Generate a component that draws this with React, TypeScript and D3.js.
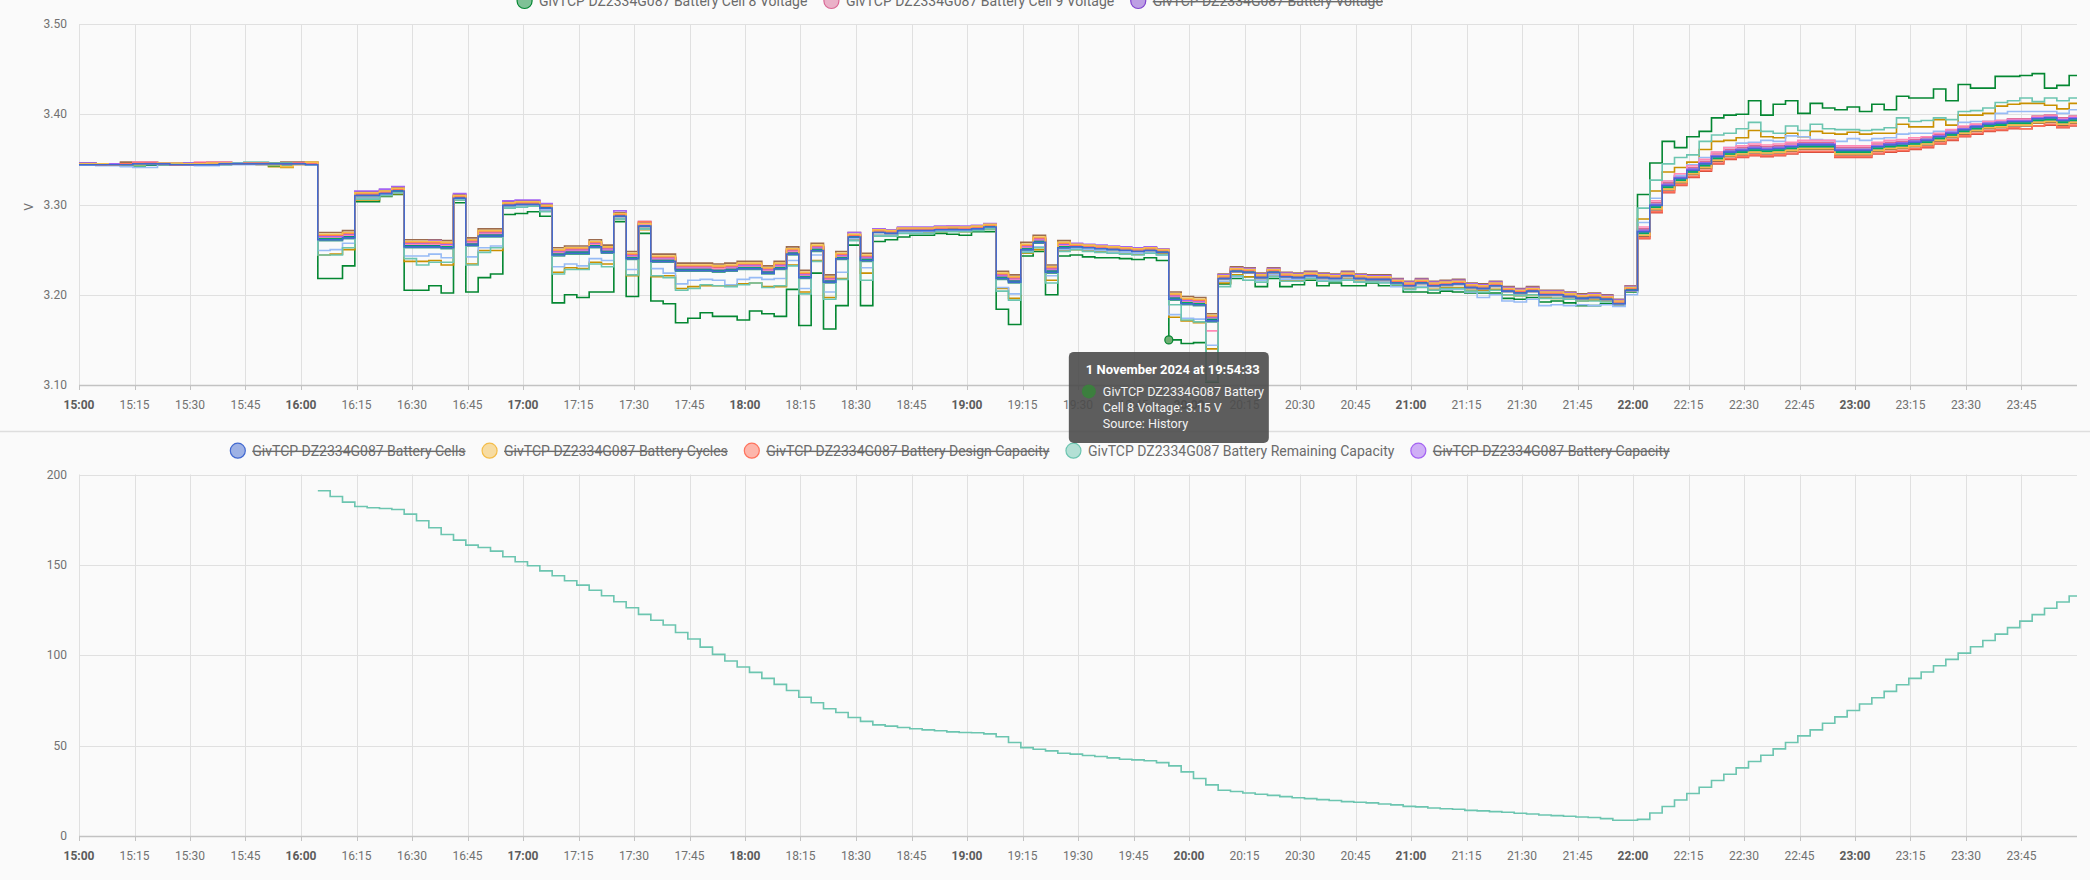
import { useEffect, useRef } from 'react';
import * as d3 from 'd3';

// History window and sampling (GivTCP reports roughly every 200 s)
const WINDOW_START = new Date(2024, 10, 1, 15, 0, 0);
const WINDOW_END = new Date(2024, 10, 2, 0, 0, 0);
const FIRST_SAMPLE = new Date(2024, 10, 1, 15, 1, 13);
const SAMPLE_SECONDS = 200;
const SAMPLE_COUNT = 162;
const CAPACITY_FIRST_SAMPLE = 19;

const DEVICE = 'GivTCP DZ2334G087 Battery';

const CELL_LABELS = [
    'Cell 1', 'Cell 10', 'Cell 11', 'Cell 12', 'Cell 13', 'Cell 14', 'Cell 15', 'Cell 16',
    'Cell 2', 'Cell 3', 'Cell 4', 'Cell 5', 'Cell 6', 'Cell 7', 'Cell 8', 'Cell 9',
];
const CELL_COLORS = [
    '#4269d0', '#f4bd4a', '#ff725c', '#6cc5b0', '#a463f2', '#ff8ab7', '#9c6b4e', '#97bbf5',
    '#01ab63', '#9498a0', '#094bad', '#c99000', '#d84f3e', '#49a28f', '#048732', '#d96895',
];

// Cell voltages in mV: value at 15:00, then one per sample
const CELL_1_MV = [3344,3344,3344,3344,3344,3345,3345,3345,3344,3344,3344,3344,3345,3345,3345,3345,3345,3345,3345,3344,
    3261,3261,3263,3310,3310,3312,3315,3253,3253,3253, 3252,3307,3255,3265,3265,3299,3300,3300,3296,3244,
    3246,3246,3253,3247,3287,3240,3276,3237,3237,3227, 3227,3227,3226,3227,3229,3229,3224,3229,3245,3219,
    3249,3214,3240,3264,3238,3269,3268,3271,3271,3271, 3272,3272,3272,3273,3275,3218,3214,3250,3258,3225,
    3252,3253,3252,3251,3250,3249,3248,3249,3247,3195, 3190,3189,3171,3218,3226,3225,3219,3225,3220,3219,
    3221,3219,3218,3221,3218,3217,3217,3213,3210,3213, 3210,3211,3212,3208,3207,3210,3204,3202,3204,3200,
    3200,3198,3196,3197,3195,3190,3205,3270,3299,3321, 3329,3338,3345,3353,3358,3360,3362,3361,3362,3364,
    3366,3366,3366,3360,3360,3360,3364,3366,3367,3369, 3371,3375,3379,3383,3386,3389,3390,3392,3392,3395,
    3396,3393,3395];
const CELL_10_MV = [3345,3345,3345,3344,3344,3344,3345,3346,3346,3345,3345,3346,3346,3345,3345,3345,3344,3342,3344,3347,
    3267,3267,3269,3313,3313,3315,3318,3259,3259,3259, 3258,3310,3261,3271,3271,3302,3303,3303,3299,3250,
    3252,3252,3259,3253,3290,3246,3279,3243,3243,3233, 3233,3233,3232,3233,3235,3235,3230,3235,3251,3225,
    3255,3220,3246,3267,3244,3272,3271,3274,3274,3274, 3275,3275,3275,3276,3278,3224,3220,3256,3264,3231,
    3258,3256,3255,3254,3253,3252,3251,3252,3250,3201, 3196,3195,3177,3221,3229,3228,3222,3228,3223,3222,
    3224,3222,3221,3224,3221,3220,3220,3216,3213,3216, 3213,3214,3215,3211,3210,3213,3207,3205,3207,3203,
    3203,3201,3199,3200,3198,3193,3208,3266,3295,3317, 3325,3334,3341,3349,3354,3356,3358,3357,3358,3360,
    3362,3362,3362,3356,3356,3356,3360,3362,3363,3365, 3367,3371,3375,3379,3382,3385,3386,3388,3388,3391,
    3392,3389,3391];
const CELL_11_MV = [3345,3345,3344,3344,3345,3346,3346,3345,3344,3345,3346,3346,3345,3345,3346,3346,3345,3345,3346,3346,
    3266,3266,3268,3312,3312,3314,3317,3258,3258,3258, 3257,3309,3260,3270,3270,3301,3302,3302,3298,3249,
    3251,3251,3258,3252,3289,3245,3281,3242,3242,3232, 3232,3232,3231,3232,3234,3234,3229,3234,3250,3224,
    3254,3219,3245,3266,3243,3271,3270,3273,3273,3273, 3274,3274,3274,3275,3277,3223,3219,3255,3263,3230,
    3257,3255,3254,3253,3252,3251,3250,3251,3249,3200, 3195,3194,3176,3220,3228,3227,3221,3227,3222,3221,
    3223,3221,3220,3223,3220,3219,3219,3215,3212,3215, 3212,3213,3214,3210,3209,3212,3206,3204,3206,3202,
    3202,3200,3198,3199,3197,3192,3207,3263,3292,3314, 3322,3331,3338,3346,3351,3353,3355,3354,3355,3357,
    3359,3359,3359,3353,3353,3353,3357,3359,3360,3362, 3364,3368,3372,3376,3379,3382,3383,3385,3384,3387,
    3389,3386,3388];
const CELL_12_MV = [3345,3345,3344,3344,3344,3344,3345,3345,3345,3345,3345,3345,3345,3346,3347,3347,3346,3346,3345,3344,
    3244,3244,3252,3306,3306,3310,3313,3240,3233,3236, 3236,3305,3233,3247,3252,3296,3297,3298,3292,3223,
    3228,3228,3234,3231,3284,3222,3273,3221,3219,3205, 3207,3211,3210,3209,3211,3213,3208,3210,3232,3201,
    3237,3195,3217,3260,3216,3265,3265,3268,3268,3268, 3270,3270,3270,3271,3273,3204,3194,3247,3252,3213,
    3248,3250,3248,3247,3246,3245,3244,3246,3244,3189, 3172,3170,3104,3209,3221,3216,3214,3220,3215,3215,
    3218,3215,3215,3216,3214,3214,3213,3211,3206,3208, 3205,3207,3207,3204,3203,3205,3200,3199,3200,3196,
    3196,3195,3193,3193,3192,3191,3208,3296,3327,3345, 3352,3355,3370,3377,3379,3384,3391,3381,3379,3387,
    3382,3389,3384,3383,3383,3382,3383,3385,3396,3392, 3393,3396,3394,3403,3404,3407,3413,3415,3418,3414,
    3418,3415,3418];
const CELL_13_MV = [3346,3346,3345,3345,3345,3345,3346,3346,3346,3346,3346,3346,3346,3346,3345,3345,3345,3345,3346,3346,
    3265,3265,3267,3315,3315,3317,3320,3257,3257,3260, 3256,3312,3259,3269,3269,3304,3305,3305,3301,3248,
    3250,3250,3257,3251,3293,3244,3281,3241,3241,3231, 3231,3231,3232,3231,3233,3233,3228,3233,3249,3223,
    3253,3218,3244,3269,3242,3273,3272,3275,3275,3275, 3276,3276,3276,3277,3279,3222,3218,3254,3262,3229,
    3256,3257,3256,3255,3254,3253,3252,3253,3251,3199, 3194,3193,3175,3222,3230,3229,3223,3229,3224,3223,
    3225,3223,3222,3225,3222,3221,3221,3217,3214,3217, 3214,3215,3216,3212,3211,3214,3208,3206,3208,3204,
    3204,3202,3200,3201,3199,3194,3209,3271,3300,3322, 3330,3339,3346,3354,3359,3361,3363,3362,3363,3365,
    3367,3367,3367,3361,3361,3361,3365,3367,3368,3370, 3372,3376,3380,3384,3387,3390,3391,3393,3393,3396,
    3397,3394,3396];
const CELL_14_MV = [3345,3345,3344,3344,3345,3347,3347,3346,3344,3344,3347,3347,3347,3346,3345,3345,3345,3345,3346,3346,
    3264,3264,3266,3312,3312,3314,3317,3256,3256,3256, 3255,3309,3258,3268,3268,3301,3302,3302,3298,3247,
    3249,3249,3256,3250,3289,3243,3278,3240,3240,3230, 3230,3230,3229,3230,3232,3232,3227,3232,3248,3222,
    3252,3217,3243,3266,3241,3271,3270,3273,3273,3273, 3274,3276,3274,3275,3277,3221,3217,3253,3261,3228,
    3255,3255,3254,3253,3252,3251,3250,3251,3249,3198, 3193,3192,3160,3220,3228,3227,3221,3227,3222,3221,
    3223,3221,3220,3223,3220,3219,3219,3215,3212,3215, 3212,3213,3214,3210,3209,3212,3206,3204,3206,3202,
    3202,3200,3198,3199,3197,3192,3209,3275,3304,3326, 3334,3343,3350,3358,3363,3365,3367,3366,3367,3369,
    3371,3371,3371,3365,3365,3365,3369,3371,3372,3374, 3375,3379,3383,3387,3389,3392,3393,3394,3394,3397,
    3398,3395,3397];
const CELL_15_MV = [3346,3346,3345,3345,3347,3347,3347,3346,3346,3346,3346,3347,3347,3346,3346,3346,3346,3347,3347,3347,
    3269,3269,3271,3314,3314,3316,3319,3261,3261,3261, 3260,3311,3263,3273,3273,3303,3304,3304,3300,3252,
    3254,3254,3261,3255,3291,3248,3280,3245,3245,3235, 3235,3235,3234,3235,3237,3237,3232,3237,3253,3227,
    3257,3222,3248,3269,3246,3272,3271,3274,3274,3274, 3275,3275,3275,3276,3278,3226,3222,3258,3266,3233,
    3260,3256,3255,3254,3253,3252,3251,3252,3250,3203, 3198,3197,3179,3223,3231,3230,3224,3230,3225,3224,
    3226,3224,3223,3226,3223,3222,3222,3218,3215,3218, 3215,3216,3217,3213,3212,3215,3209,3207,3209,3205,
    3205,3203,3201,3202,3200,3195,3210,3265,3294,3316, 3324,3333,3340,3348,3353,3355,3357,3356,3357,3359,
    3361,3361,3361,3355,3355,3355,3359,3361,3362,3364, 3366,3370,3374,3378,3381,3384,3385,3387,3387,3390,
    3391,3388,3390];
const CELL_16_MV = [3344,3344,3343,3343,3342,3341,3341,3344,3344,3344,3343,3343,3344,3344,3344,3344,3344,3344,3344,3344,
    3249,3250,3257,3307,3307,3311,3313,3243,3243,3245, 3241,3306,3242,3252,3254,3297,3298,3298,3294,3231,
    3234,3232,3240,3238,3285,3228,3273,3229,3224,3212, 3216,3217,3216,3211,3217,3219,3217,3218,3238,3207,
    3244,3203,3225,3262,3230,3266,3266,3269,3269,3270, 3271,3271,3271,3272,3274,3208,3201,3248,3253,3221,
    3250,3251,3250,3249,3247,3247,3246,3247,3244,3178, 3174,3173,3144,3215,3220,3216,3216,3222,3217,3217,
    3219,3216,3216,3217,3214,3214,3214,3209,3206,3209, 3205,3206,3206,3203,3197,3200,3193,3192,3195,3188,
    3189,3188,3189,3188,3189,3187,3200,3280,3307,3326, 3332,3344,3352,3358,3363,3368,3369,3371,3370,3376,
    3375,3372,3371,3370,3373,3371,3373,3374,3378,3379, 3379,3381,3381,3391,3392,3392,3401,3403,3403,3403,
    3403,3401,3405];
const CELL_2_MV = [3345,3345,3345,3344,3343,3343,3344,3344,3344,3344,3344,3345,3345,3345,3346,3346,3343,3343,3345,3345,
    3262,3262,3264,3310,3310,3312,3315,3254,3254,3254, 3253,3307,3256,3266,3266,3299,3300,3300,3296,3245,
    3247,3247,3254,3248,3287,3241,3276,3238,3238,3228, 3228,3228,3227,3228,3230,3230,3225,3230,3246,3220,
    3250,3215,3241,3264,3239,3270,3269,3272,3272,3272, 3273,3273,3273,3274,3276,3219,3215,3251,3259,3226,
    3253,3254,3253,3252,3251,3250,3249,3250,3248,3196, 3191,3190,3172,3219,3227,3226,3220,3226,3221,3220,
    3222,3220,3219,3222,3219,3218,3218,3214,3211,3214, 3211,3212,3213,3209,3208,3211,3205,3203,3205,3201,
    3201,3199,3197,3198,3196,3191,3206,3268,3297,3319, 3327,3336,3343,3351,3356,3358,3360,3359,3360,3362,
    3364,3364,3364,3358,3358,3358,3362,3364,3365,3367, 3369,3373,3377,3381,3384,3387,3388,3390,3390,3393,
    3394,3391,3393];
const CELL_3_MV = [3346,3346,3345,3345,3345,3345,3345,3345,3345,3345,3345,3345,3345,3345,3345,3345,3345,3346,3346,3346,
    3264,3264,3266,3308,3308,3310,3313,3256,3256,3256, 3255,3305,3258,3268,3268,3297,3298,3298,3294,3247,
    3249,3249,3256,3250,3284,3243,3274,3240,3240,3230, 3230,3230,3229,3230,3232,3232,3227,3232,3248,3222,
    3252,3217,3243,3262,3241,3270,3269,3272,3272,3272, 3273,3273,3273,3274,3276,3221,3217,3253,3261,3228,
    3255,3254,3253,3252,3251,3250,3249,3250,3248,3198, 3193,3192,3174,3217,3225,3224,3218,3224,3219,3218,
    3220,3218,3217,3220,3217,3216,3216,3212,3209,3212, 3209,3210,3211,3207,3206,3209,3203,3201,3203,3199,
    3199,3197,3195,3196,3194,3189,3204,3266,3295,3317, 3326,3335,3342,3350,3355,3357,3359,3358,3359,3361,
    3363,3363,3363,3357,3357,3357,3361,3363,3364,3366, 3368,3372,3376,3380,3383,3386,3387,3389,3389,3392,
    3393,3390,3392];
const CELL_4_MV = [3344,3344,3344,3344,3344,3344,3344,3345,3345,3344,3344,3344,3345,3345,3345,3345,3345,3345,3345,3345,
    3263,3263,3265,3311,3311,3313,3316,3255,3255,3255, 3254,3308,3257,3267,3267,3300,3301,3301,3297,3246,
    3248,3248,3255,3249,3288,3242,3277,3239,3239,3229, 3229,3229,3228,3229,3231,3231,3226,3231,3247,3221,
    3251,3216,3242,3265,3240,3271,3270,3273,3273,3273, 3274,3274,3274,3275,3277,3220,3216,3252,3260,3227,
    3254,3255,3254,3253,3252,3251,3250,3251,3249,3197, 3192,3191,3173,3220,3228,3227,3221,3227,3222,3221,
    3223,3221,3220,3223,3220,3219,3219,3215,3212,3215, 3212,3213,3214,3210,3209,3212,3206,3204,3206,3202,
    3202,3200,3198,3199,3197,3192,3207,3271,3300,3322, 3330,3339,3346,3354,3359,3361,3363,3362,3363,3365,
    3367,3367,3367,3361,3361,3361,3365,3367,3368,3370, 3372,3376,3380,3384,3387,3390,3391,3393,3393,3396,
    3397,3394,3396];
const CELL_5_MV = [3345,3345,3345,3345,3345,3345,3344,3344,3344,3345,3346,3346,3345,3345,3345,3344,3342,3341,3345,3346,
    3244,3245,3250,3305,3305,3310,3312,3237,3237,3238, 3233,3305,3234,3249,3249,3297,3298,3298,3293,3225,
    3230,3229,3236,3234,3285,3221,3272,3220,3221,3207, 3209,3210,3210,3210,3212,3213,3209,3209,3233,3203,
    3238,3197,3218,3261,3224,3266,3266,3269,3269,3269, 3270,3271,3270,3272,3273,3207,3196,3246,3250,3216,
    3249,3250,3249,3248,3247,3246,3245,3247,3245,3175, 3171,3169,3140,3213,3222,3220,3216,3221,3216,3216,
    3218,3216,3216,3218,3215,3215,3214,3211,3207,3209, 3206,3208,3208,3205,3205,3206,3200,3199,3200,3197,
    3196,3195,3193,3194,3193,3192,3206,3284,3315,3336, 3341,3347,3361,3370,3371,3374,3382,3375,3374,3379,
    3375,3381,3379,3378,3380,3378,3379,3379,3389,3386, 3386,3394,3388,3399,3399,3401,3409,3411,3412,3412,
    3410,3406,3412];
const CELL_6_MV = [3345,3345,3344,3344,3345,3345,3345,3345,3344,3344,3345,3345,3345,3345,3345,3345,3346,3346,3346,3345,
    3265,3265,3267,3312,3312,3314,3317,3257,3257,3257, 3256,3309,3259,3269,3269,3301,3302,3302,3298,3248,
    3250,3250,3257,3251,3289,3244,3278,3241,3241,3231, 3231,3231,3230,3231,3233,3233,3228,3233,3249,3223,
    3253,3218,3244,3266,3242,3270,3269,3272,3272,3272, 3273,3273,3273,3274,3276,3222,3218,3254,3262,3229,
    3256,3254,3253,3252,3251,3250,3249,3250,3248,3199, 3194,3193,3175,3219,3227,3226,3220,3226,3221,3220,
    3222,3220,3219,3222,3219,3218,3218,3214,3211,3214, 3211,3212,3213,3209,3208,3211,3205,3203,3205,3201,
    3201,3199,3197,3198,3196,3191,3206,3262,3291,3313, 3321,3330,3337,3345,3350,3352,3354,3353,3354,3356,
    3358,3358,3358,3352,3352,3352,3356,3358,3359,3361, 3363,3367,3371,3375,3378,3381,3382,3384,3384,3387,
    3388,3385,3387];
const CELL_7_MV = [3345,3345,3344,3344,3344,3344,3344,3344,3344,3344,3344,3345,3345,3346,3346,3346,3346,3345,3345,3345,
    3260,3260,3262,3310,3310,3312,3315,3252,3252,3252, 3251,3307,3254,3264,3264,3299,3300,3300,3296,3243,
    3245,3245,3252,3246,3287,3239,3276,3236,3236,3226, 3226,3226,3225,3226,3228,3228,3223,3228,3244,3218,
    3248,3213,3239,3264,3237,3269,3268,3271,3271,3271, 3272,3272,3272,3273,3275,3217,3213,3249,3257,3224,
    3251,3253,3252,3251,3250,3249,3248,3249,3247,3194, 3189,3188,3170,3218,3226,3225,3219,3225,3220,3219,
    3221,3219,3218,3221,3218,3217,3217,3213,3210,3213, 3210,3211,3212,3208,3207,3210,3204,3202,3204,3200,
    3200,3198,3196,3197,3195,3190,3205,3269,3298,3320, 3328,3337,3344,3352,3357,3359,3361,3360,3361,3363,
    3365,3365,3365,3359,3359,3359,3363,3365,3366,3368, 3370,3374,3378,3382,3385,3388,3389,3391,3391,3394,
    3395,3392,3394];
const CELL_8_MV = [3345,3345,3344,3344,3343,3343,3344,3344,3344,3344,3344,3344,3344,3345,3346,3346,3346,3346,3345,3345,
    3218,3218,3232,3303,3303,3309,3311,3205,3205,3210, 3202,3302,3203,3219,3223,3289,3290,3292,3287,3191,
    3200,3197,3203,3203,3281,3198,3268,3193,3190,3169, 3174,3180,3176,3176,3172,3182,3179,3176,3206,3166,
    3224,3162,3188,3255,3188,3259,3261,3264,3266,3266, 3268,3267,3266,3270,3270,3184,3167,3243,3248,3200,
    3243,3244,3242,3241,3241,3240,3239,3241,3238,3150, 3146,3147,3103,3212,3218,3220,3209,3218,3209,3211,
    3216,3210,3213,3210,3210,3213,3210,3210,3203,3203, 3202,3204,3203,3202,3202,3202,3196,3195,3197,3192,
    3193,3191,3188,3188,3190,3189,3203,3311,3346,3370, 3363,3375,3381,3396,3399,3400,3415,3399,3411,3415,
    3401,3412,3407,3405,3408,3403,3411,3405,3420,3418, 3418,3428,3415,3433,3429,3429,3442,3442,3443,3445,
    3429,3432,3443];
const CELL_9_MV = [3345,3345,3345,3345,3346,3346,3346,3345,3345,3345,3346,3346,3346,3345,3345,3345,3345,3345,3346,3346,
    3264,3264,3266,3312,3312,3314,3317,3256,3256,3256, 3255,3309,3258,3268,3268,3301,3302,3302,3298,3247,
    3249,3249,3256,3250,3289,3243,3278,3240,3240,3230, 3230,3230,3229,3230,3232,3232,3227,3232,3248,3222,
    3252,3217,3243,3266,3241,3272,3271,3274,3274,3274, 3275,3275,3275,3276,3278,3221,3217,3253,3261,3228,
    3255,3256,3255,3254,3253,3252,3251,3252,3250,3198, 3193,3192,3174,3221,3229,3228,3222,3228,3223,3222,
    3224,3222,3221,3224,3221,3220,3220,3216,3213,3216, 3213,3214,3215,3211,3210,3213,3207,3205,3207,3203,
    3203,3201,3199,3200,3198,3193,3208,3273,3302,3324, 3332,3341,3348,3356,3361,3363,3365,3364,3365,3367,
    3369,3369,3369,3363,3363,3363,3367,3369,3370,3372, 3374,3378,3382,3386,3389,3392,3393,3395,3395,3398,
    3399,3396,3398];

const CELL_SERIES = [
    CELL_1_MV, CELL_10_MV, CELL_11_MV, CELL_12_MV, CELL_13_MV, CELL_14_MV, CELL_15_MV, CELL_16_MV,
    CELL_2_MV, CELL_3_MV, CELL_4_MV, CELL_5_MV, CELL_6_MV, CELL_7_MV, CELL_8_MV, CELL_9_MV,
];

// Remaining capacity (Ah), one per sample from 16:04:33
const REMAINING_CAPACITY = [
    191.0,187.8,184.7,182.3,181.6,181.2,180.6,178.1,174.4,170.5, 166.8,163.7,160.9,159.6,157.6,154.5,151.7,149.5,146.7,144.0,
    141.2,138.8,136.0,132.9,129.6,126.3,122.6,119.4,116.7,112.6, 109.0,104.5,100.5,96.8,93.5,90.5,87.2,83.9,80.5,76.8,
    73.7,70.4,68.3,65.6,63.4,61.5,60.8,60.0,59.3,58.7, 58.2,57.6,57.3,57.1,56.5,54.9,51.7,48.9,48.0,47.1,
    45.8,45.3,44.5,44.0,43.2,42.5,42.1,41.6,40.6,38.8, 35.5,31.8,28.3,25.3,24.6,23.8,23.1,22.5,21.8,21.2,
    20.7,20.1,19.6,19.0,18.7,18.3,17.7,17.2,16.4,16.1, 15.5,15.1,14.8,14.2,13.9,13.5,13.1,12.6,12.2,11.6,
    11.3,10.9,10.5,10.2,9.6,8.7,8.7,9.2,12.7,16.3, 19.9,23.5,27.0,30.7,34.2,37.7,41.2,44.7,48.2,51.7,
    55.4,58.7,62.4,65.9,69.4,73.0,76.5,80.0,83.7,87.2, 90.7,94.2,97.7,101.2,104.7,108.2,111.7,115.3,118.9,122.5,
    126.0,129.5,132.8,
];

const VOLT_TICKS = [3.1, 3.2, 3.3, 3.4, 3.5];
const CAPACITY_TICKS = [0, 50, 100, 150, 200];

const TOP_LEGEND = [
    { label: 'Cell 8 Voltage', color: '#048732', hidden: false },
    { label: 'Cell 9 Voltage', color: '#d96895', hidden: false },
    { label: 'Voltage', color: '#8043ce', hidden: true },
];
const BOTTOM_LEGEND = [
    { label: 'Cells', color: '#4269d0', hidden: true },
    { label: 'Cycles', color: '#f4bd4a', hidden: true },
    { label: 'Design Capacity', color: '#ff725c', hidden: true },
    { label: 'Remaining Capacity', color: '#6cc5b0', hidden: false },
    { label: 'Capacity', color: '#a463f2', hidden: true },
];

// Tooltip hover: Cell 8, 19:54:33
const HOVER_CELL = 'Cell 8';
const HOVER_INDEX = 89;

const W = 2090;
const H = 880;
const PLOT_LEFT = 79;
const PLOT_RIGHT = 2077;
const LEGEND_CENTER = 950;
const FONT = 'Roboto, "Noto Sans", sans-serif';
const GRID = '#e0e0e0';
const AXIS = '#c2c2c2';
const LABEL = '#717171';

type Sel = d3.Selection<SVGGElement, unknown, null, undefined>;

export default function App() {
    const ref = useRef<SVGSVGElement>(null);

    useEffect(() => {
        if (!ref.current) return;
        const svg = d3.select(ref.current);
        svg.selectAll('*').remove();

        const samples = d3.range(SAMPLE_COUNT).map(i => new Date(+FIRST_SAMPLE + i * SAMPLE_SECONDS * 1000));
        const cellTimes = [WINDOW_START, ...samples];
        const capacityTimes = samples.slice(CAPACITY_FIRST_SAMPLE);

        const x = d3.scaleTime().domain([WINDOW_START, WINDOW_END]).range([PLOT_LEFT, PLOT_RIGHT]);
        const xTicks = d3.timeMinute.every(15)!.range(WINDOW_START, WINDOW_END);
        const fmtTime = d3.timeFormat('%H:%M');

        const root = svg.append('g');

        root.append('rect').attr('width', W).attr('height', H).attr('fill', '#fafafa');

        // Card separator
        root.append('line')
            .attr('x1', 0).attr('x2', W).attr('y1', 431.5).attr('y2', 431.5)
            .attr('stroke', '#dedede').attr('stroke-width', 1.5);

        const drawFrame = (g: Sel, y: d3.ScaleLinear<number, number>, ticks: number[], fmt: (v: number) => string) => {
            const [yBottom, yTop] = y.range();

            // Grid lines
            g.append('g').selectAll('line')
                .data(ticks.slice(1))
                .join('line')
                .attr('x1', PLOT_LEFT).attr('x2', PLOT_RIGHT)
                .attr('y1', d => Math.round(y(d)) + 0.5).attr('y2', d => Math.round(y(d)) + 0.5)
                .attr('stroke', GRID);

            g.append('g').selectAll('line')
                .data(xTicks)
                .join('line')
                .attr('x1', d => Math.round(x(d)) + 0.5).attr('x2', d => Math.round(x(d)) + 0.5)
                .attr('y1', yTop).attr('y2', yBottom + 5)
                .attr('stroke', GRID);

            // X axis
            g.append('line')
                .attr('x1', PLOT_LEFT).attr('x2', PLOT_RIGHT)
                .attr('y1', Math.round(yBottom) + 0.5).attr('y2', Math.round(yBottom) + 0.5)
                .attr('stroke', AXIS).attr('stroke-width', 1.3);

            g.append('g').selectAll('line')
                .data(xTicks)
                .join('line')
                .attr('x1', d => Math.round(x(d)) + 0.5).attr('x2', d => Math.round(x(d)) + 0.5)
                .attr('y1', yBottom).attr('y2', yBottom + 5)
                .attr('stroke', AXIS);

            g.append('g').selectAll('text')
                .data(xTicks)
                .join('text')
                .attr('x', d => x(d))
                .attr('y', yBottom + 23.5)
                .attr('text-anchor', 'middle')
                .attr('font-family', FONT)
                .attr('font-size', 12)
                .attr('font-weight', d => (d.getMinutes() === 0 ? 700 : 400))
                .attr('fill', d => (d.getMinutes() === 0 ? '#5c5c5c' : LABEL))
                .text(d => fmtTime(d));

            // Y axis labels
            g.append('g').selectAll('text')
                .data(ticks)
                .join('text')
                .attr('x', 67)
                .attr('y', d => y(d) + 4)
                .attr('text-anchor', 'end')
                .attr('font-family', FONT)
                .attr('font-size', 12)
                .attr('fill', LABEL)
                .text(d => fmt(d));
        };

        const drawLegend = (items: { label: string; color: string; hidden: boolean }[], cy: number) => {
            const lg = root.append('g');
            let cx = 0;
            items.forEach(item => {
                lg.append('circle')
                    .attr('cx', cx).attr('cy', cy).attr('r', 7.5)
                    .attr('fill', item.color).attr('fill-opacity', 0.5)
                    .attr('stroke', item.color).attr('stroke-width', 1.2);
                const t = lg.append('text')
                    .attr('x', cx + 14.5)
                    .attr('y', cy + 5)
                    .attr('font-family', FONT)
                    .attr('font-size', 14)
                    .attr('fill', '#6b6b6b')
                    .attr('text-decoration', item.hidden ? 'line-through' : null)
                    .text(`${DEVICE} ${item.label}`);
                const w = (t.node() as SVGTextElement).getComputedTextLength();
                cx += 14.5 + w + 24;
            });
            const total = cx - 24 + 7.5;
            lg.attr('transform', `translate(${LEGEND_CENTER - total / 2 + 7.5},0)`);
        };

        // ---- Top chart: cell voltages ----
        const yV = d3.scaleLinear().domain([3.1, 3.5]).range([385, 24]);
        const top = root.append('g');
        drawFrame(top, yV, VOLT_TICKS, d3.format('.2f'));

        top.append('text')
            .attr('transform', 'translate(33,207) rotate(-90)')
            .attr('text-anchor', 'middle')
            .attr('font-family', FONT)
            .attr('font-size', 12)
            .attr('fill', LABEL)
            .text('V');

        const lineV = d3.line<[Date, number]>()
            .x(d => x(d[0]))
            .y(d => yV(d[1] / 1000))
            .curve(d3.curveStepAfter);

        // Later series first so Cell 1 ends up on top, as in the dashboard
        const order = d3.range(CELL_SERIES.length).reverse();
        order.forEach(i => {
            const vals = CELL_SERIES[i];
            const pts: [Date, number][] = cellTimes.map((t, j) => [t, vals[j]]);
            pts.push([WINDOW_END, vals[vals.length - 1]]);
            top.append('path')
                .datum(pts)
                .attr('fill', 'none')
                .attr('stroke', CELL_COLORS[i])
                .attr('stroke-width', 1.6)
                .attr('d', lineV);
        });

        drawLegend(TOP_LEGEND, 1);

        // ---- Bottom chart: capacity ----
        const yC = d3.scaleLinear().domain([0, 200]).range([836, 474.5]);
        const bottom = root.append('g');
        drawFrame(bottom, yC, CAPACITY_TICKS, d3.format('d'));

        const lineC = d3.line<[Date, number]>()
            .x(d => x(d[0]))
            .y(d => yC(d[1]))
            .curve(d3.curveStepAfter);

        const capPts: [Date, number][] = capacityTimes.map((t, j) => [t, REMAINING_CAPACITY[j]]);
        capPts.push([WINDOW_END, REMAINING_CAPACITY[REMAINING_CAPACITY.length - 1]]);
        bottom.append('path')
            .datum(capPts)
            .attr('fill', 'none')
            .attr('stroke', '#6cc5b0')
            .attr('stroke-width', 1.6)
            .attr('d', lineC);

        drawLegend(BOTTOM_LEGEND, 450.7);

        // ---- Hover point and tooltip ----
        const hoverIdx = CELL_LABELS.indexOf(HOVER_CELL);
        const hoverColor = CELL_COLORS[hoverIdx];
        const hoverTime = cellTimes[HOVER_INDEX];
        const hoverValue = CELL_SERIES[hoverIdx][HOVER_INDEX] / 1000;
        const hx = x(hoverTime);
        const hy = yV(hoverValue);

        root.append('circle')
            .attr('cx', hx).attr('cy', hy).attr('r', 4)
            .attr('fill', '#6fae72').attr('stroke', hoverColor).attr('stroke-width', 1.2);

        const tx = hx - 100;
        const ty = hy + 12;
        const tip = root.append('g').attr('transform', `translate(${tx},${ty})`);
        tip.append('rect')
            .attr('width', 200).attr('height', 91).attr('rx', 5)
            .attr('fill', '#4b4b4b').attr('fill-opacity', 0.9);
        tip.append('text')
            .attr('x', 17).attr('y', 22.5)
            .attr('font-family', FONT).attr('font-size', 13).attr('font-weight', 700)
            .attr('fill', '#ffffff')
            .text(d3.timeFormat('%-d %B %Y at %H:%M:%S')(hoverTime));
        tip.append('circle')
            .attr('cx', 20).attr('cy', 39.5).attr('r', 7)
            .attr('fill', '#3c7f3e');
        const body = [DEVICE, `${HOVER_CELL} Voltage: ${hoverValue.toFixed(2)} V`, 'Source: History'];
        tip.selectAll('text.body')
            .data(body)
            .join('text')
            .attr('class', 'body')
            .attr('x', 34)
            .attr('y', (_, i) => 44 + i * 16.3)
            .attr('font-family', FONT).attr('font-size', 12.6)
            .attr('fill', '#f2f2f2')
            .text(d => d);
    }, []);

    return (
        <div style={{ position: 'fixed', left: 0, top: 0, width: W, height: H, background: '#fafafa' }}>
            <svg ref={ref} width={W} height={H} />
        </div>
    );
}
